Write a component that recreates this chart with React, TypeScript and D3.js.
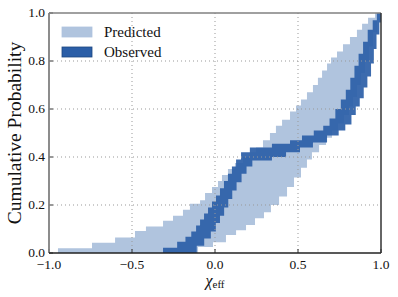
import * as d3 from "d3";

// Predicted band: upper and lower step CDFs (x where the step starts, y after it)
const predUpperX = [-1, -0.946, -0.741, -0.602, -0.482, -0.416, -0.313, -0.253, -0.193, -0.151, -0.09, -0.06, -0.018, 0.018, 0.042, 0.078, 0.12, 0.169, 0.211, 0.247, 0.289, 0.331, 0.367, 0.404, 0.452, 0.488, 0.518, 0.554, 0.59, 0.62, 0.645, 0.675, 0.699, 0.735, 0.771, 0.813, 0.855, 0.886, 0.922, 0.964];
const predUpperY = [0, 0.02, 0.043, 0.065, 0.092, 0.11, 0.134, 0.155, 0.18, 0.205, 0.22, 0.25, 0.275, 0.3, 0.325, 0.35, 0.375, 0.4, 0.42, 0.44, 0.47, 0.5, 0.53, 0.555, 0.59, 0.615, 0.64, 0.67, 0.7, 0.73, 0.76, 0.79, 0.815, 0.84, 0.87, 0.9, 0.93, 0.955, 0.98, 1.0];
const predLowerX = [-1, -0.102, -0.012, 0.066, 0.127, 0.187, 0.241, 0.295, 0.337, 0.386, 0.434, 0.476, 0.518, 0.554, 0.584, 0.627, 0.669, 0.705, 0.741, 0.777, 0.807, 0.831, 0.855, 0.88, 0.904, 0.928, 0.952, 0.976, 1.0];
const predLowerY = [0, 0.025, 0.045, 0.075, 0.095, 0.117, 0.145, 0.17, 0.2, 0.235, 0.275, 0.315, 0.355, 0.39, 0.42, 0.45, 0.48, 0.51, 0.54, 0.575, 0.61, 0.65, 0.7, 0.75, 0.8, 0.86, 0.92, 0.97, 1.0];

// Observed band
const obsUpperX = [-1, -0.313, -0.228, -0.178, -0.143, -0.114, -0.09, -0.066, -0.042, -0.018, 0.006, 0.03, 0.054, 0.078, 0.102, 0.127, 0.157, 0.21, 0.343, 0.452, 0.524, 0.595, 0.652, 0.69, 0.725, 0.758, 0.788, 0.815, 0.84, 0.865, 0.892, 0.92, 0.95, 0.975];
const obsUpperY = [0, 0.022, 0.047, 0.068, 0.09, 0.115, 0.14, 0.165, 0.19, 0.215, 0.24, 0.27, 0.3, 0.33, 0.36, 0.39, 0.42, 0.44, 0.455, 0.47, 0.49, 0.51, 0.53, 0.56, 0.6, 0.64, 0.68, 0.73, 0.78, 0.83, 0.88, 0.93, 0.97, 1.0];
const obsLowerX = [-1, -0.11, -0.065, -0.025, 0.005, 0.03, 0.055, 0.08, 0.104, 0.13, 0.16, 0.19, 0.225, 0.343, 0.428, 0.512, 0.59, 0.675, 0.745, 0.785, 0.822, 0.848, 0.872, 0.896, 0.918, 0.94, 0.957, 0.973, 0.99, 1.0];
const obsLowerY = [0, 0.03, 0.06, 0.09, 0.125, 0.155, 0.19, 0.225, 0.26, 0.295, 0.33, 0.36, 0.385, 0.4, 0.42, 0.44, 0.46, 0.49, 0.51, 0.535, 0.575, 0.61, 0.645, 0.69, 0.735, 0.79, 0.85, 0.91, 0.96, 1.0];

const xTicks = [-1, -0.5, 0, 0.5, 1];
const yTicks = [0, 0.2, 0.4, 0.6, 0.8, 1];
const legendLabels = ["Predicted", "Observed"];

const W = 398;
const H = 297;
const LEFT = 49;
const RIGHT = 381;
const TOP = 13;
const BOTTOM = 253;

const LIGHT = "#b0c4de";
const DARK = "#2b5ea7";
const FONT = "'Liberation Serif', 'DejaVu Serif', serif";

type Pt = [number, number];

function stepPoints(xs: number[], ys: number[]): Pt[] {
  const pts: Pt[] = [[xs[0], ys[0]]];
  for (let i = 1; i < xs.length; i++) {
    pts.push([xs[i], ys[i - 1]]);
    pts.push([xs[i], ys[i]]);
  }
  pts.push([1, ys[ys.length - 1]]);
  return pts;
}

export default function App() {
  const x = d3.scaleLinear().domain([-1, 1]).range([LEFT, RIGHT]);
  const y = d3.scaleLinear().domain([0, 1]).range([BOTTOM, TOP]);
  const fmt = d3.format(".1f");

  const line = d3
    .line<Pt>()
    .x((d) => x(d[0]))
    .y((d) => y(d[1]));

  const band = (ux: number[], uy: number[], lx: number[], ly: number[]) =>
    (line([...stepPoints(ux, uy), ...stepPoints(lx, ly).reverse()]) ?? "") + "Z";

  const predPath = band(predUpperX, predUpperY, predLowerX, predLowerY);
  const obsPath = band(obsUpperX, obsUpperY, obsLowerX, obsLowerY);

  return (
    <svg
      width={W}
      height={H}
      style={{ position: "absolute", left: 0, top: 0, background: "#fff" }}
      fontFamily={FONT}
    >
      <path d={predPath} fill={LIGHT} />
      <path d={obsPath} fill={DARK} fillOpacity={0.92} />

      {/* grid */}
      {xTicks.slice(1, -1).map((t) => (
        <line
          key={"gx" + t}
          x1={x(t)}
          x2={x(t)}
          y1={TOP}
          y2={BOTTOM}
          stroke="#999"
          strokeDasharray="1,3"
        />
      ))}
      {yTicks.slice(1, -1).map((t) => (
        <line
          key={"gy" + t}
          x1={LEFT}
          x2={RIGHT}
          y1={y(t)}
          y2={y(t)}
          stroke="#999"
          strokeDasharray="1,3"
        />
      ))}

      {/* ticks */}
      {xTicks.map((t) => (
        <line key={"tx" + t} x1={x(t)} x2={x(t)} y1={BOTTOM} y2={BOTTOM - 4} stroke="#333" />
      ))}
      {yTicks.map((t) => (
        <line key={"ty" + t} x1={LEFT} x2={LEFT + 4} y1={y(t)} y2={y(t)} stroke="#333" />
      ))}

      {/* spines */}
      <line x1={LEFT} x2={RIGHT} y1={TOP} y2={TOP} stroke="#808080" strokeWidth={1.5} />
      <line x1={LEFT} x2={LEFT} y1={TOP} y2={BOTTOM} stroke="#808080" strokeWidth={1.8} />
      <line x1={LEFT} x2={RIGHT} y1={BOTTOM} y2={BOTTOM} stroke="#222" strokeWidth={1.5} />
      <line x1={RIGHT} x2={RIGHT} y1={TOP} y2={BOTTOM} stroke="#333" strokeWidth={1.5} />

      {/* tick labels */}
      {xTicks.map((t) => (
        <text key={"lx" + t} x={x(t)} y={269} textAnchor="middle" fontSize={13.5} fill="#111">
          {fmt(t)}
        </text>
      ))}
      {yTicks.map((t) => (
        <text key={"ly" + t} x={45} y={y(t) + 4} textAnchor="end" fontSize={13.5} fill="#111">
          {fmt(t)}
        </text>
      ))}

      {/* axis labels */}
      <text
        transform={`translate(21,${(TOP + BOTTOM) / 2}) rotate(-90)`}
        textAnchor="middle"
        fontSize={19.5}
        fill="#111"
      >
        Cumulative Probability
      </text>
      <text x={x(0)} y={286} textAnchor="middle" fontSize={16} fill="#111">
        <tspan fontStyle="italic">χ</tspan>
        <tspan fontSize={11} dy={2}>
          eff
        </tspan>
      </text>

      {/* legend */}
      {legendLabels.map((lab, i) => (
        <g key={lab} transform={`translate(62,${27 + i * 20})`}>
          <rect
            width={30}
            height={10}
            fill={i === 0 ? LIGHT : DARK}
            stroke={i === 0 ? LIGHT : "#1d4680"}
            strokeWidth={0.8}
          />
          <text x={42} y={10} fontSize={15} fill="#111">
            {lab}
          </text>
        </g>
      ))}
    </svg>
  );
}
